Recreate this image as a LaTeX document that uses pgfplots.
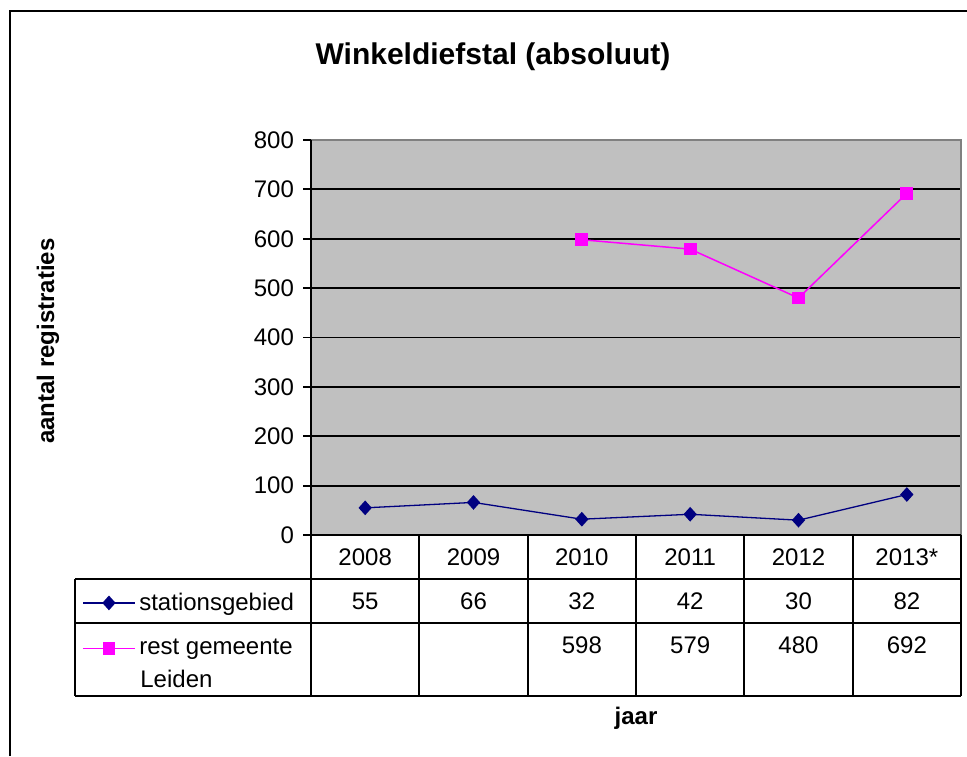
\documentclass[border=0pt]{standalone}
\usepackage{pgfplots}
\pgfplotsset{compat=1.18}
\usepackage{fontspec}
\setmainfont{Liberation Sans}
\definecolor{navyc}{RGB}{0,0,128}
\definecolor{magc}{RGB}{255,0,255}
\definecolor{bgc}{RGB}{192,192,192}
\definecolor{bordc}{RGB}{128,128,128}
\begin{document}
\begin{tikzpicture}[x=0.5pt,y=0.5pt]
\useasboundingbox (0,0) rectangle (967,756);
\begin{axis}[
  at={(155.5pt,110.5pt)}, anchor=south west,
  scale only axis, width=325pt, height=197.5pt,
  xmin=0.5, xmax=6.5, ymin=0, ymax=800,
  ytick={0,100,...,800}, xtick=\empty,
  ytick pos=left, tick align=outside, major tick length=4pt,
  tick style={black, line width=0.9pt},
  ymajorgrids, grid style={black, line width=0.9pt},
  axis line style={draw=none},
  axis background/.style={fill=bgc},
  yticklabel style={font=\fontsize{12}{14}\selectfont, xshift=-1pt},
  /pgf/number format/assume math mode=true,
  clip=false,
  legend style={at={(-0.352,-0.135)}, anchor=north west, draw=none, fill=none,
    inner sep=0pt, row sep=9pt, font=\fontsize{12}{14}\selectfont,
    cells={anchor=west}},
  legend image code/.code={\draw[mark repeat=2,mark phase=2] plot coordinates {(0cm,0cm)(0.45cm,0cm)(0.9cm,0cm)};},
]
\addplot[color=navyc, line width=0.65pt, mark=diamond*, mark size=3.2pt, mark options={fill=navyc, solid, xscale=1.2}]
  coordinates {(1,55) (2,66) (3,32) (4,42) (5,30) (6,82)};
\addlegendentry{stationsgebied}
\addplot[color=magc, line width=0.75pt, mark=square*, mark size=2.8pt, mark options={fill=magc, solid}]
  coordinates {(3,598) (4,579) (5,480) (6,692)};
\addlegendentry{rest gemeente}
\end{axis}
% plot area borders
\draw[bordc, line width=1pt] (311,616) -- (961,616) -- (961,221);
\draw[black, line width=1pt] (311,221) -- (961,221);
% table
\begin{scope}[line width=1pt]
\draw (311,616) -- (311,60);
\draw (961,221) -- (961,60);
\foreach \k in {1,...,5} {\draw ({311+108.333*\k},221) -- ({311+108.333*\k},60);}
\draw (75,177) -- (961,177);
\draw (75,133) -- (961,133);
\draw (75,60) -- (961,60);
\draw (75,177) -- (75,60);
\end{scope}
\begin{scope}[every node/.style={font=\fontsize{12}{14}\selectfont, inner sep=0pt}]
\foreach \y [count=\i] in {2008,2009,2010,2011,2012,2013*} {\node at ({311+108.333*(\i-0.5)},199) {\y};}
\foreach \v [count=\i] in {55,66,32,42,30,82} {\node at ({311+108.333*(\i-0.5)},155) {\v};}
\foreach \v [count=\i from 3] in {598,579,480,692} {\node at ({311+108.333*(\i-0.5)},111) {\v};}
\node[anchor=west] at (140,77) {Leiden};
\end{scope}
% titles
\node[font=\bfseries\fontsize{15}{17}\selectfont] at (493,699) {Winkeldiefstal (absoluut)};
\node[font=\bfseries\fontsize{12}{14}\selectfont, rotate=90] at (48,415) {aantal registraties};
\node[font=\bfseries\fontsize{12}{14}\selectfont] at (636,38) {jaar};
% outer frame
\draw[black, line width=1.2pt] (10,0) -- (10,745) -- (967,745);
\end{tikzpicture}
\end{document}
